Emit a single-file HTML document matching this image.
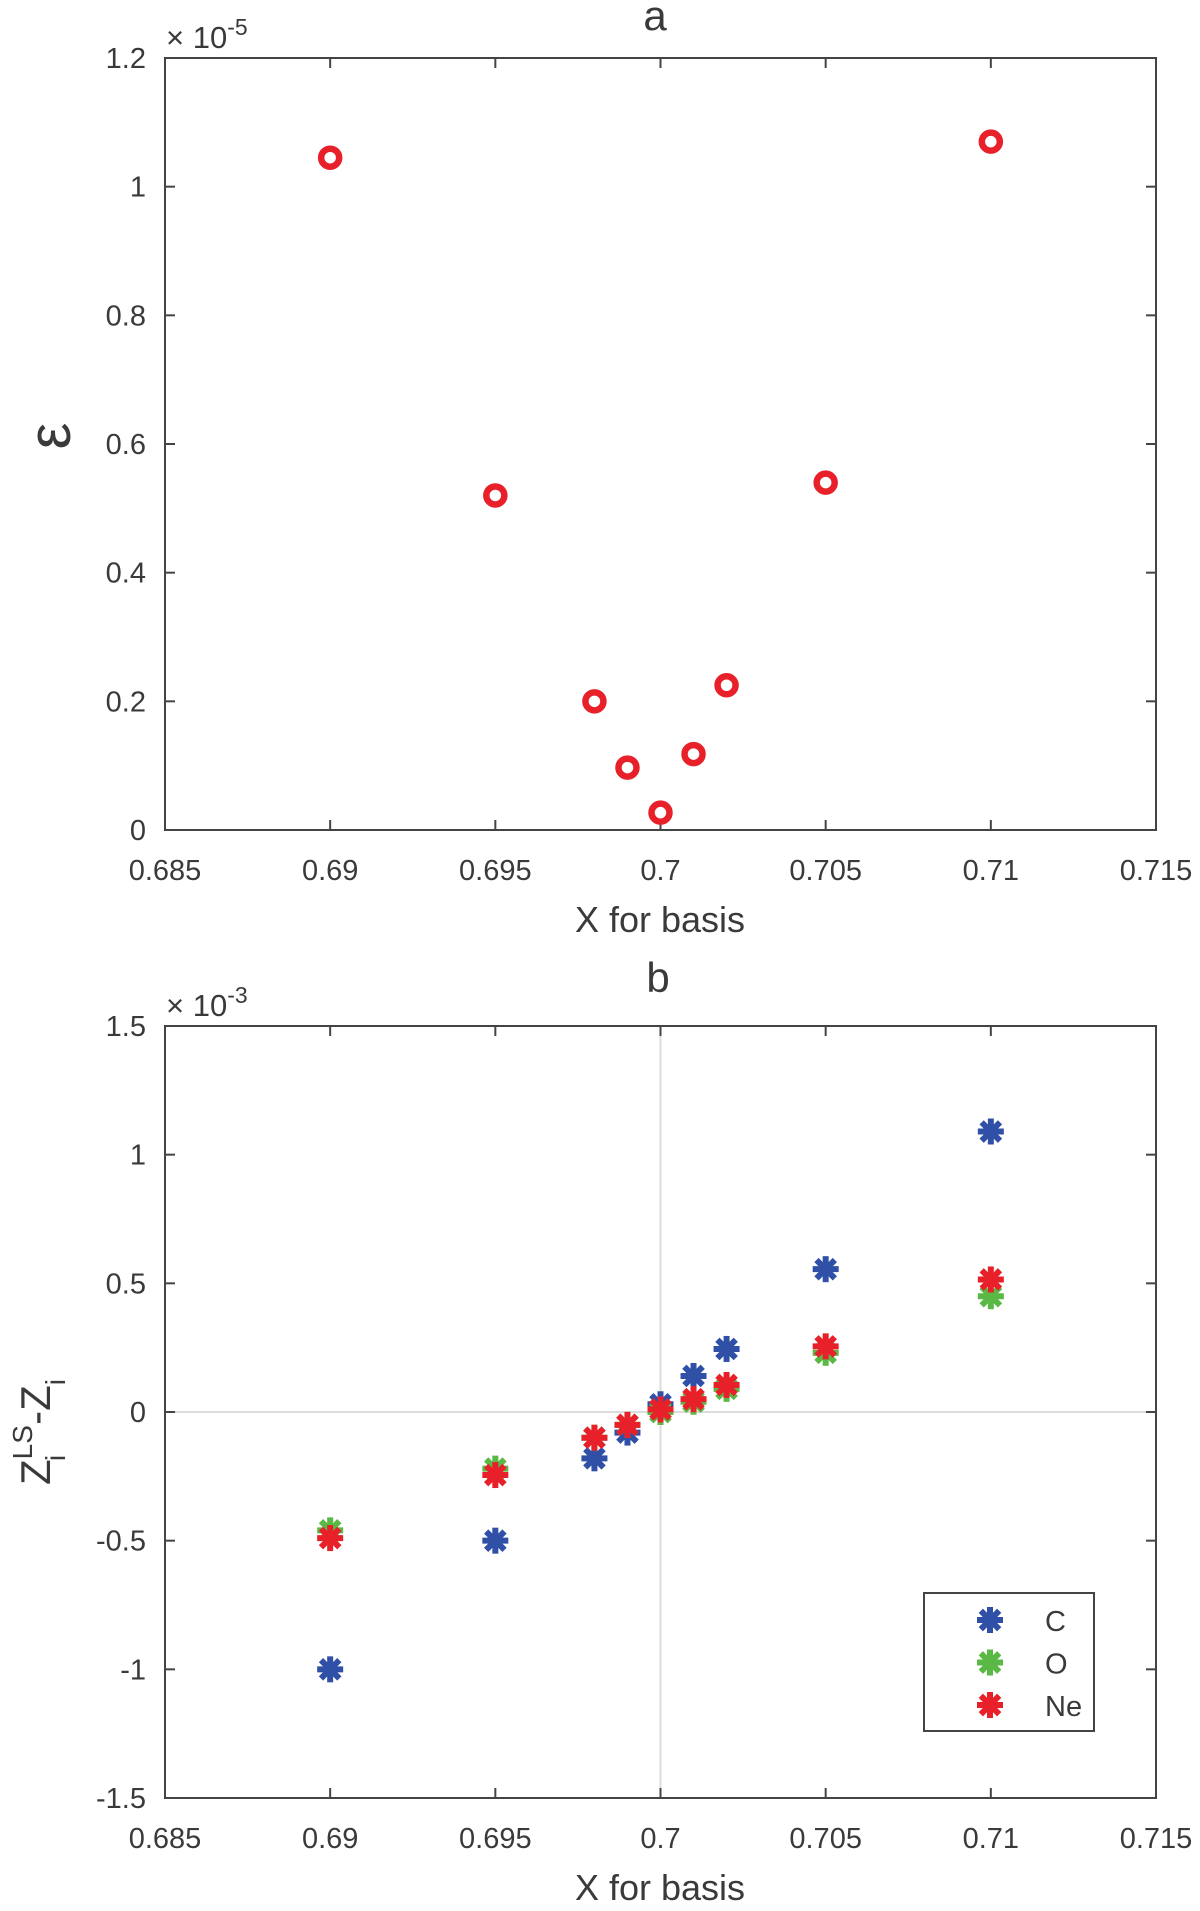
<!DOCTYPE html>
<html><head><meta charset="utf-8"><style>
body{margin:0;background:#fff}
svg{display:block}
text{font-family:"Liberation Sans",sans-serif;fill:#3a3a3a}
</style></head><body>
<svg id="chart" width="1200" height="1911" viewBox="0 0 1200 1911">
<g id="pa"></g>
<g id="pb"></g>
</svg>
<script>
const xs = [0.69, 0.695, 0.698, 0.699, 0.7, 0.701, 0.702, 0.705, 0.71];
const epsVals = [1.045, 0.52, 0.20, 0.097, 0.027, 0.118, 0.225, 0.54, 1.07];
const cVals = [-1.0, -0.5, -0.18, -0.08, 0.03, 0.14, 0.245, 0.555, 1.09];
const oVals = [-0.46, -0.22, -0.10, -0.05, 0.0, 0.04, 0.09, 0.23, 0.45];
const neVals = [-0.49, -0.245, -0.10, -0.05, 0.01, 0.05, 0.105, 0.255, 0.515];
const xTicks = [0.685, 0.69, 0.695, 0.7, 0.705, 0.71, 0.715];
const xTickLabels = ["0.685","0.69","0.695","0.7","0.705","0.71","0.715"];
const aTicks = [0, 0.2, 0.4, 0.6, 0.8, 1, 1.2];
const aTickLabels = ["0","0.2","0.4","0.6","0.8","1","1.2"];
const bTicks = [-1.5, -1, -0.5, 0, 0.5, 1, 1.5];
const bTickLabels = ["-1.5","-1","-0.5","0","0.5","1","1.5"];
const legendNames = ["C","O","Ne"];
const colors = ["#3050a8","#5ab845","#e8202a"];

const NS = "http://www.w3.org/2000/svg";
const L = 165, R = 1156;
const xScale = v => L + (v - 0.685) / 0.03 * (R - L);
function mk(parent, tag, attrs, txt){
  const e = document.createElementNS(NS, tag);
  for (const k in attrs) e.setAttribute(k, attrs[k]);
  if (txt !== undefined) e.textContent = txt;
  parent.appendChild(e); return e;
}
function axes(g, T, B, yTicks, yLabels, yScale, expo, name){
  const box = mk(g, 'rect', {x:L, y:T, width:R-L, height:B-T, fill:'none', stroke:'#444', 'stroke-width':2});
  
  
  xTicks.forEach((v, i) => {
    const x = xScale(v);
    mk(g, 'line', {x1:x, x2:x, y1:B, y2:B-10, stroke:'#444', 'stroke-width':2});
    mk(g, 'line', {x1:x, x2:x, y1:T, y2:T+10, stroke:'#444', 'stroke-width':2});
    const t = mk(g, 'text', {x:x, y:B+50, 'font-size':29, 'text-anchor':'middle'}, xTickLabels[i]);
    
    
  });
  yTicks.forEach((v, i) => {
    const y = yScale(v);
    mk(g, 'line', {x1:L, x2:L+10, y1:y, y2:y, stroke:'#444', 'stroke-width':2});
    mk(g, 'line', {x1:R, x2:R-10, y1:y, y2:y, stroke:'#444', 'stroke-width':2});
    const t = mk(g, 'text', {x:146, y:y+10, 'font-size':29, 'text-anchor':'end'}, yLabels[i]);
    
    
  });
  const ex = mk(g, 'text', {x:166, y:T-10, 'font-size':31});
  
  
  mk(ex, 'tspan', {}, '\u00d7 10');
  mk(ex, 'tspan', {dy:-13, 'font-size':23}, expo);
  const xl = mk(g, 'text', {x:660, y:B+102, 'font-size':36, 'text-anchor':'middle'}, 'X for basis');
  
  
}
function star(g, cx, cy, col){
  const s = mk(g, 'g', {stroke:col, 'stroke-width':6, 'stroke-linecap':'butt'});
  const r = 13;
  for (let k = 0; k < 4; k++){
    const a = k * Math.PI / 4;
    mk(s, 'line', {x1:cx - r*Math.cos(a), y1:cy - r*Math.sin(a), x2:cx + r*Math.cos(a), y2:cy + r*Math.sin(a)});
  }
  return s;
}

// Panel a
const pa = document.getElementById('pa');
const aT = 58, aB = 830;
const yA = v => aB - v / 1.2 * (aB - aT);
axes(pa, aT, aB, aTicks, aTickLabels, yA, '-5', 'panel-a');
const ta = mk(pa, 'text', {x:655, y:30, 'font-size':42, 'text-anchor':'middle', fill:'#111'}, 'a');


const ya = mk(pa, 'text', {x:0, y:0, 'font-size':60, 'text-anchor':'middle', transform:'translate(70,436) rotate(-90)', fill:'#111'}, 'ε');


xs.forEach((x, i) => {
  const c = mk(pa, 'circle', {cx:xScale(x), cy:yA(epsVals[i]), r:9, fill:'none', stroke:'#e8202a', 'stroke-width':6.5});
  
  
});

// Panel b
const pb = document.getElementById('pb');
const bT = 1026, bB = 1798;
const yB = v => bB - (v + 1.5) / 3 * (bB - bT);
mk(pb, 'line', {x1:xScale(0.7), x2:xScale(0.7), y1:bT, y2:bB, stroke:'#dcdcdc', 'stroke-width':2});
mk(pb, 'line', {x1:L, x2:R, y1:yB(0), y2:yB(0), stroke:'#dcdcdc', 'stroke-width':2});
axes(pb, bT, bB, bTicks, bTickLabels, yB, '-3', 'panel-b');
const tb = mk(pb, 'text', {x:658, y:992, 'font-size':42, 'text-anchor':'middle', fill:'#111'}, 'b');


const yb = mk(pb, 'text', {x:0, y:0, 'font-size':42, 'transform':'translate(50,1485) rotate(-90)'});


mk(yb, 'tspan', {}, 'Z');
mk(yb, 'tspan', {dy:-18, 'font-size':28}, 'LS');
mk(yb, 'tspan', {dx:-36, dy:33, 'font-size':28}, 'i');
mk(yb, 'tspan', {dx:30, dy:-15}, '-Z');
mk(yb, 'tspan', {dy:15, 'font-size':28}, 'i');
[cVals, oVals, neVals].forEach((arr, si) => {
  xs.forEach((x, i) => {
    const s = star(pb, xScale(x), yB(arr[i]), colors[si]);
    
    
  });
});
const lg = mk(pb, 'g', {});


mk(lg, 'rect', {x:924, y:1593, width:170, height:138, fill:'#fff', stroke:'#444', 'stroke-width':2});
legendNames.forEach((n, i) => {
  const y = 1620 + i * 42.5;
  const s = star(lg, 990, y, colors[i]);
  
  
  const t = mk(lg, 'text', {x:1045, y:y+11, 'font-size':29, fill:'#111'}, n);
  
  
});
</script>
</body></html>
